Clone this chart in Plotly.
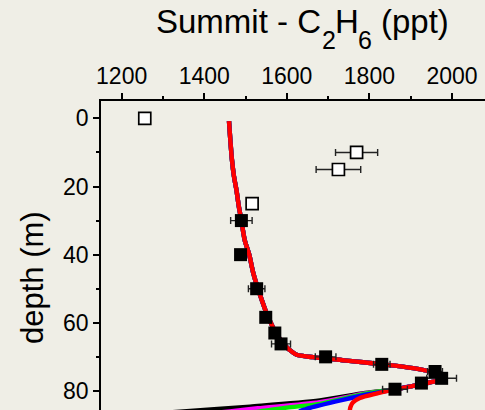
import plotly.graph_objects as go

# Shared upper part of the modelled firn-air profiles (ppt, depth in m)
model_upper_x = [1460, 1463, 1467, 1472, 1478, 1484, 1490, 1498, 1509, 1519, 1531, 1555,
                 1579, 1597, 1607, 1624, 1664, 1745, 1825, 1906, 1963, 1983, 1970, 1947,
                 1906, 1865]
model_upper_depth = [0.8, 6, 12, 17, 21, 26, 30, 35.7, 40, 45.5, 50.3, 58.4,
                     64, 66.8, 68, 69.4, 70.1, 71.1, 72.1, 73.3, 74.8, 75.8, 76.8, 77.5,
                     78.5, 79.5]

# Lower tails of the individual model scenarios
tail_black_x = [1790, 1680, 1511, 1341, 1280]
tail_black_depth = [80.6, 82.8, 84.6, 86.1, 86.6]
tail_magenta_x = [1790, 1680, 1530, 1462, 1430]
tail_magenta_depth = [80.7, 83.3, 85.1, 86.0, 86.4]
tail_green_x = [1790, 1680, 1600, 1535, 1500]
tail_green_depth = [80.8, 83.8, 84.9, 86.0, 86.4]
tail_blue_x = [1800, 1730, 1656, 1630]
tail_blue_depth = [80.9, 82.8, 85.0, 86.0]
tail_red_x = [1817, 1777, 1760, 1754, 1752]
tail_red_depth = [80.8, 82.1, 83.4, 84.8, 86.5]

# Measurements: open squares
open_x = [1256, 1769, 1725, 1516]
open_depth = [0, 10, 15, 25]
open_err = [0, 51, 54, 13]

# Measurements: filled squares
filled_x = [1490, 1488, 1527, 1549, 1571, 1586, 1694, 1830, 1959, 1975, 1926, 1862]
filled_depth = [30, 40, 50, 58.4, 63, 66.2, 70, 72.2, 74.3, 76.3, 77.7, 79.5]
filled_err = [26, 0, 20, 0, 0, 23, 25, 20, 18, 36, 0, 30]

x_ticks = [1200, 1400, 1600, 1800, 2000]
y_ticks = [0, 20, 40, 60, 80]

# Title pieces: (text, font size, left edge px, top edge px)
title_parts = [
    ("Summit - C", 33, 155.6, 3.4),
    ("2", 25, 321.8, 25.7),
    ("H", 33, 334.6, 3.4),
    ("6", 25, 358.4, 25.7),
    ("(ppt)", 33, 380.5, 3.4),
]

W, H = 485, 410
ML, MT = 101, 101
BG = "#efeee6"
FONT = "Liberation Sans, Arial, sans-serif"


def paper_x(px):
    return (px - ML) / (W - ML)


def paper_y(py):
    return (H - py) / (H - MT)


fig = go.Figure()

scenarios = [
    ("black", tail_black_x, tail_black_depth),
    ("#ff00ff", tail_magenta_x, tail_magenta_depth),
    ("#00ee00", tail_green_x, tail_green_depth),
    ("#0000ff", tail_blue_x, tail_blue_depth),
    ("#ff0000", tail_red_x, tail_red_depth),
]
for color, tx, td in scenarios:
    fig.add_trace(go.Scatter(
        x=model_upper_x + tx, y=model_upper_depth + td,
        mode="lines", line=dict(color=color, width=4.4, shape="spline", smoothing=0.8),
        showlegend=False, hoverinfo="skip",
    ))

err_style = dict(type="data", thickness=1.4, width=3.5, color="#222222")

fig.add_trace(go.Scatter(
    x=filled_x, y=filled_depth, mode="markers",
    marker=dict(symbol="square", size=13, color="black", line=dict(width=0)),
    error_x=dict(array=filled_err, **err_style),
    showlegend=False,
))
fig.add_trace(go.Scatter(
    x=open_x, y=open_depth, mode="markers",
    marker=dict(symbol="square", size=12, color="white", line=dict(color="black", width=1.7)),
    error_x=dict(array=open_err, **err_style),
    showlegend=False,
))

fig.update_layout(
    width=W, height=H,
    margin=dict(l=ML, r=0, t=MT, b=0, pad=0),
    paper_bgcolor=BG, plot_bgcolor=BG,
    font=dict(family=FONT, color="black"),
    showlegend=False,
)

axis_common = dict(
    showline=True, linecolor="black", linewidth=1.5,
    ticks="outside", ticklen=6, tickwidth=1.5, tickcolor="black",
    showgrid=False, zeroline=False,
    tickfont=dict(family=FONT, size=23, color="black"),
)

fig.update_xaxes(
    side="top", range=[1150, 2080], tickvals=x_ticks,
    minor=dict(dtick=100, tick0=1200, ticks="outside", ticklen=3, tickwidth=1.5, tickcolor="black"),
    **axis_common,
)
fig.update_yaxes(
    range=[85.6, -5.1], tickvals=y_ticks,
    minor=dict(dtick=10, tick0=0, ticks="outside", ticklen=3, tickwidth=1.5, tickcolor="black"),
    **axis_common,
)

# Chemical-formula title assembled from pieces so the subscripts sit well below the baseline
for text, size, left, top in title_parts:
    fig.add_annotation(
        text=text, xref="paper", yref="paper",
        x=paper_x(left), y=paper_y(top),
        xanchor="left", yanchor="top", showarrow=False,
        borderpad=0, borderwidth=0,
        font=dict(family=FONT, size=size, color="black"),
    )

fig.add_annotation(
    text="depth (m)",
    xref="paper", yref="paper", x=-0.18, y=0.43,
    xanchor="center", yanchor="middle", textangle=-90, showarrow=False,
    font=dict(family=FONT, size=31, color="black"),
)

fig.write_html("out.html")
